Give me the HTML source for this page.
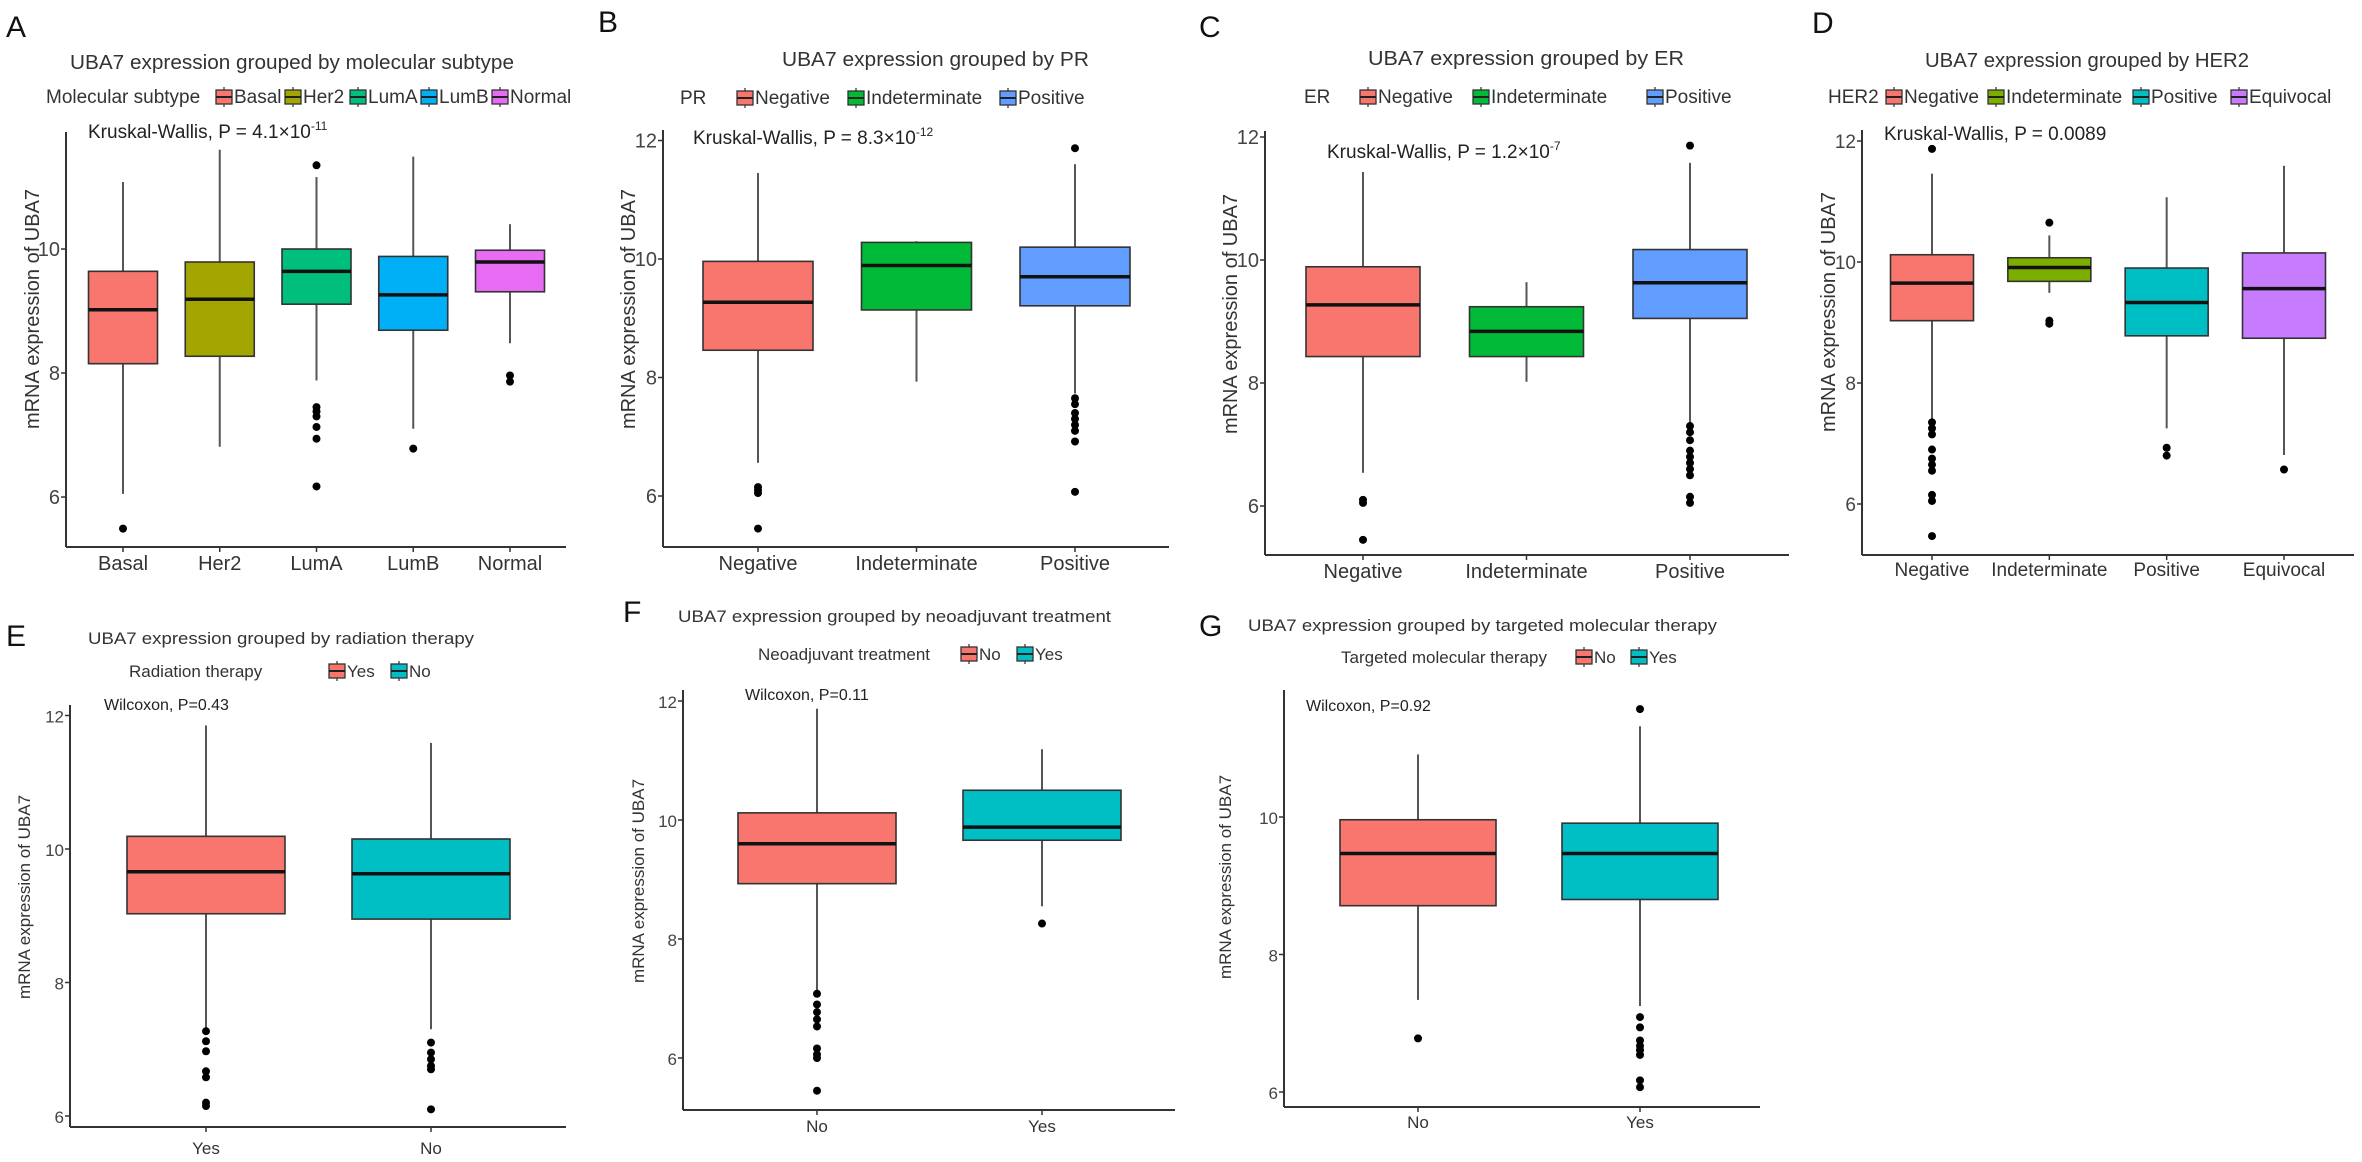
<!DOCTYPE html>
<html><head><meta charset="utf-8"><style>
html,body{margin:0;padding:0;background:#fff;}
svg{display:block;font-family:"Liberation Sans",Arial,sans-serif;}
</style></head><body>
<svg id="fig" width="2362" height="1162" viewBox="0 0 2362 1162" xmlns="http://www.w3.org/2000/svg"></svg>
<script>
// ===== Data =====
const catsA=["Basal","Her2","LumA","LumB","Normal"];
const hiA=[11.08,11.6,11.16,11.49,10.4];
const q3A=[9.64,9.79,10.0,9.88,9.98];
const medA=[9.02,9.19,9.64,9.26,9.79];
const q1A=[8.15,8.27,9.11,8.69,9.31];
const loA=[6.05,6.81,7.88,7.1,8.48];
const outA=[[5.49],[],[11.35,7.45,7.38,7.3,7.13,6.94,6.17],[6.78],[7.96,7.86]];

const catsB=["Negative","Indeterminate","Positive"];
const hiB=[11.45,10.3,11.6];
const q3B=[9.96,10.28,10.2];
const medB=[9.27,9.89,9.7];
const q1B=[8.46,9.14,9.21];
const loB=[6.56,7.93,7.73];
const outB=[[6.15,6.1,6.05,5.45],[],[11.87,7.65,7.55,7.4,7.3,7.2,7.1,6.92,6.07]];

const catsC=["Negative","Indeterminate","Positive"];
const hiC=[11.43,9.64,11.58];
const q3C=[9.89,9.24,10.17];
const medC=[9.27,8.84,9.63];
const q1C=[8.43,8.43,9.05];
const loC=[6.54,8.02,7.36];
const outC=[[6.1,6.05,5.45],[],[11.86,7.3,7.2,7.07,6.9,6.8,6.7,6.6,6.5,6.15,6.05]];

const catsD=["Negative","Indeterminate","Positive","Equivocal"];
const hiD=[11.46,10.44,11.07,11.59];
const q3D=[10.12,10.07,9.9,10.15];
const medD=[9.65,9.91,9.33,9.56];
const q1D=[9.03,9.68,8.78,8.74];
const loD=[7.39,9.49,7.25,6.81];
const outD=[[11.87,7.35,7.25,7.15,6.9,6.75,6.65,6.55,6.15,6.05,5.47],[10.65,9.03,8.98],[6.93,6.8],[6.57]];

const catsE=["Yes","No"];
const hiE=[11.85,11.59];
const q3E=[10.19,10.15];
const medE=[9.66,9.63];
const q1E=[9.03,8.95];
const loE=[7.3,7.3];
const outE=[[7.27,7.12,6.97,6.67,6.58,6.2,6.15],[7.1,6.95,6.85,6.75,6.7,6.1]];

const catsF=["No","Yes"];
const hiF=[11.87,11.19];
const q3F=[10.12,10.5];
const medF=[9.6,9.88];
const q1F=[8.93,9.66];
const loF=[7.12,8.55];
const outF=[[7.08,6.9,6.77,6.65,6.53,6.16,6.06,6.0,5.45],[8.26]];

const catsG=["No","Yes"];
const hiG=[10.91,11.32];
const q3G=[9.96,9.91];
const medG=[9.47,9.47];
const q1G=[8.71,8.8];
const loG=[7.34,7.25];
const outG=[[6.78],[11.57,7.09,6.94,6.75,6.67,6.61,6.54,6.17,6.07]];

const ticksTop=[6,8,10,12];
const ticksA=[6,8,10];
const ticksG=[6,8,10];

// ===== Layout =====
const NS="http://www.w3.org/2000/svg";
const svg=document.getElementById('fig');
function el(tag,attrs,parent){const e=document.createElementNS(NS,tag);for(const k in attrs)e.setAttribute(k,attrs[k]);(parent||svg).appendChild(e);return e;}
function txt(s,attrs,parent){const t=el('text',attrs,parent);t.textContent=s;return t;}

const panels=[
 {id:'a',letter:'A',lx:6,ly:37,cats:catsA,hi:hiA,q3:q3A,med:medA,q1:q1A,lo:loA,out:outA,ticks:ticksA,
  cols:['#F8766D','#A3A500','#00BF7D','#00B0F6','#E76BF3'],
  ax:66,top:132,bot:547,right:566,y6:497,y10:249,c0:123,c1:510,bw:69,fs:20,xly:570,
  title:'UBA7 expression grouped by molecular subtype',tx:70,ty:69,tw:444,
  leg:'Molecular subtype',legx:46,legy:103,keys:[216,285,350,421,492],
  stat:'Kruskal-Wallis, P = 4.1×10',sup:'-11',sx:88,sy:138,ytx:32,yty:309},
 {id:'b',letter:'B',lx:598,ly:32,cats:catsB,hi:hiB,q3:q3B,med:medB,q1:q1B,lo:loB,out:outB,ticks:ticksTop,
  cols:['#F8766D','#00BA38','#619CFF'],
  ax:663,top:130,bot:547,right:1169,y6:496,y10:259,c0:758,c1:1075,bw:110,fs:20,xly:570,
  title:'UBA7 expression grouped by PR',tx:782,ty:66,tw:307,
  leg:'PR',legx:680,legy:104,keys:[737,848,1000],
  stat:'Kruskal-Wallis, P = 8.3×10',sup:'-12',sx:693,sy:144,ytx:628,yty:309},
 {id:'c',letter:'C',lx:1199,ly:37,cats:catsC,hi:hiC,q3:q3C,med:medC,q1:q1C,lo:loC,out:outC,ticks:ticksTop,
  cols:['#F8766D','#00BA38','#619CFF'],
  ax:1265,top:131,bot:555,right:1789,y6:506,y10:260,c0:1363,c1:1690,bw:114,fs:20,xly:578,
  title:'UBA7 expression grouped by ER',tx:1368,ty:65,tw:316,
  leg:'ER',legx:1304,legy:103,keys:[1360,1473,1647],
  stat:'Kruskal-Wallis, P = 1.2×10',sup:'-7',sx:1327,sy:158,ytx:1230,yty:314},
 {id:'d',letter:'D',lx:1812,ly:33,cats:catsD,hi:hiD,q3:q3D,med:medD,q1:q1D,lo:loD,out:outD,ticks:ticksTop,
  cols:['#F8766D','#7CAE00','#00BFC4','#C77CFF'],
  ax:1862,top:130,bot:555,right:2354,y6:504,y10:262,c0:1932,c1:2284,bw:83,fs:19,xly:576,
  title:'UBA7 expression grouped by HER2',tx:1925,ty:67,tw:324,
  leg:'HER2',legx:1828,legy:103,keys:[1886,1988,2133,2231],
  stat:'Kruskal-Wallis, P = 0.0089',sup:'',sx:1884,sy:140,ytx:1828,yty:312},
 {id:'e',letter:'E',lx:6,ly:646,cats:catsE,hi:hiE,q3:q3E,med:medE,q1:q1E,lo:loE,out:outE,ticks:ticksTop,
  cols:['#F8766D','#00BFC4'],
  ax:70,top:705,bot:1127,right:566,y6:1116,y10:849,c0:206,c1:431,bw:158,fs:17,xly:1154,
  title:'UBA7 expression grouped by radiation therapy',tx:88,ty:644,tw:386,
  leg:'Radiation therapy',legx:129,legy:677,keys:[329,391],
  stat:'Wilcoxon, P=0.43',sup:'',sx:104,sy:710,ytx:23,yty:897},
 {id:'f',letter:'F',lx:623,ly:622,cats:catsF,hi:hiF,q3:q3F,med:medF,q1:q1F,lo:loF,out:outF,ticks:ticksTop,
  cols:['#F8766D','#00BFC4'],
  ax:683,top:690,bot:1110,right:1175,y6:1058,y10:820,c0:817,c1:1042,bw:158,fs:17,xly:1132,
  title:'UBA7 expression grouped by neoadjuvant treatment',tx:678,ty:622,tw:433,
  leg:'Neoadjuvant treatment',legx:758,legy:660,keys:[961,1017],
  stat:'Wilcoxon, P=0.11',sup:'',sx:745,sy:700,ytx:637,yty:881},
 {id:'g',letter:'G',lx:1199,ly:636,cats:catsG,hi:hiG,q3:q3G,med:medG,q1:q1G,lo:loG,out:outG,ticks:ticksG,
  cols:['#F8766D','#00BFC4'],
  ax:1284,top:690,bot:1107,right:1760,y6:1092,y10:817,c0:1418,c1:1640,bw:156,fs:17,xly:1128,
  title:'UBA7 expression grouped by targeted molecular therapy',tx:1248,ty:631,tw:469,
  leg:'Targeted molecular therapy',legx:1341,legy:663,keys:[1576,1631],
  stat:'Wilcoxon, P=0.92',sup:'',sx:1306,sy:711,ytx:1224,yty:877}
];

panels.forEach(p=>{
  const g=el('g',{});
  
  
  const yS=v=>p.y6+(v-6)*(p.y10-p.y6)/4;
  const n=p.cats.length;
  const xS=i=>n>1?p.c0+i*(p.c1-p.c0)/(n-1):p.c0;
  const big=p.fs>=19;

  const L=txt(p.letter,{x:p.lx,y:p.ly,'font-size':30,fill:'#111'},g);
  
  

  const T=txt(p.title,{x:p.tx,y:p.ty,'font-size':big?20:16.5,fill:'#333',textLength:p.tw,lengthAdjust:'spacingAndGlyphs'},g);
  
  

  const lg=el('g',{},g);
  
  
  const lt=txt(p.leg,{x:p.legx,y:p.legy,'font-size':big?19:17,fill:'#333'},lg);
  
  
  p.cats.forEach((c,i)=>{
    const kx=p.keys[i],ky=p.legy-13;
    const e=el('g',{},lg);
    
    
    el('line',{x1:kx+8,x2:kx+8,y1:ky-3,y2:ky+17,stroke:'#555','stroke-width':1.5},e);
    el('rect',{x:kx,y:ky,width:16,height:14,fill:p.cols[i],stroke:'#333','stroke-width':1.3},e);
    el('line',{x1:kx,x2:kx+16,y1:ky+7,y2:ky+7,stroke:'#222','stroke-width':2},e);
    txt(c,{x:kx+18,y:p.legy,'font-size':big?19:17,fill:'#333'},e);
  });

  const st=txt(p.stat,{x:p.sx,y:p.sy,'font-size':big?19:16,fill:'#222'},g);
  if(p.sup){const ts=el('tspan',{dy:-8,'font-size':12},st);ts.textContent=p.sup;}
  
  

  const ya=el('line',{x1:p.ax,x2:p.ax,y1:p.top,y2:p.bot,stroke:'#333','stroke-width':2},g);
  
  
  const xa=el('line',{x1:p.ax,x2:p.right,y1:p.bot,y2:p.bot,stroke:'#333','stroke-width':2},g);
  
  
  p.ticks.forEach(t=>{
    const y=yS(t);
    el('line',{x1:p.ax-5,x2:p.ax,y1:y,y2:y,stroke:'#333','stroke-width':1.5},g);
    const tl=txt(String(t),{x:p.ax-6,y:y+7,'font-size':p.fs,fill:'#444','text-anchor':'end'},g);
    
    
  });
  const yt=txt('mRNA expression of UBA7',{x:0,y:0,'font-size':big?20:17,fill:'#333','text-anchor':'middle',transform:`translate(${p.ytx+7},${p.yty}) rotate(-90)`},g);
  
  

  p.cats.forEach((c,i)=>{
    const cx=xS(i);
    el('line',{x1:cx,x2:cx,y1:p.bot,y2:p.bot+5,stroke:'#333','stroke-width':1.5},g);
    const xl=txt(c,{x:cx,y:p.xly,'font-size':p.fs,fill:'#333','text-anchor':'middle'},g);
    
    
    const b=el('g',{},g);
    
    
    el('line',{x1:cx,x2:cx,y1:yS(p.hi[i]),y2:yS(p.q3[i]),stroke:'#555','stroke-width':2},b);
    el('line',{x1:cx,x2:cx,y1:yS(p.q1[i]),y2:yS(p.lo[i]),stroke:'#555','stroke-width':2},b);
    el('rect',{x:cx-p.bw/2,y:yS(p.q3[i]),width:p.bw,height:yS(p.q1[i])-yS(p.q3[i]),fill:p.cols[i],stroke:'#333','stroke-width':1.6},b);
    el('line',{x1:cx-p.bw/2,x2:cx+p.bw/2,y1:yS(p.med[i]),y2:yS(p.med[i]),stroke:'#111','stroke-width':3.5},b);
    p.out[i].forEach(v=>{
      const o=el('circle',{cx:cx,cy:yS(v),r:4,fill:'#000'},b);
      
      
    });
  });
  svg.appendChild(g);
});
</script>
</body></html>
